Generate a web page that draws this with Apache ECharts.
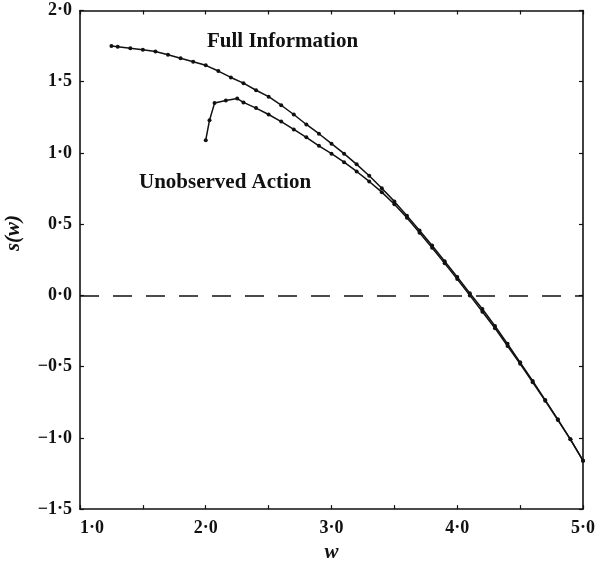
<!DOCTYPE html>
<html>
<head>
<meta charset="utf-8">
<script src="https://cdn.jsdelivr.net/npm/echarts@6/dist/echarts.min.js"></script>
<style>
  html, body { margin: 0; padding: 0; background: #ffffff; }
  #chart { width: 598px; height: 568px; }
</style>
</head>
<body>
<div id="chart"></div>
<script>
// Wage grid and s(w) values, full-information case
const fullW = [1.25, 1.3, 1.4, 1.5, 1.6, 1.7, 1.8, 1.9, 2.0, 2.1, 2.2, 2.3, 2.4, 2.5, 2.6, 2.7, 2.8, 2.9,
               3.0, 3.1, 3.2, 3.3, 3.4, 3.5, 3.6, 3.7, 3.8, 3.9, 4.0, 4.1, 4.2, 4.3, 4.4, 4.5, 4.6, 4.7, 4.8, 4.9, 5.0];
const fullS = [1.75, 1.745, 1.735, 1.725, 1.712, 1.69, 1.665, 1.64, 1.615, 1.575, 1.53, 1.49, 1.44, 1.395, 1.335, 1.27, 1.2, 1.135,
               1.065, 0.995, 0.92, 0.84, 0.752, 0.66, 0.56, 0.455, 0.35, 0.24, 0.13, 0.015, -0.095, -0.215, -0.34, -0.47, -0.6, -0.735, -0.87, -1.01, -1.16];

// Unobserved-action case
const unobsW = [2.0, 2.03, 2.07, 2.16, 2.25, 2.3, 2.4, 2.5, 2.6, 2.7, 2.8, 2.9,
                3.0, 3.1, 3.2, 3.3, 3.4, 3.5, 3.6, 3.7, 3.8, 3.9, 4.0, 4.1, 4.2, 4.3, 4.4, 4.5, 4.6, 4.7, 4.8, 4.9, 5.0];
const unobsS = [1.09, 1.23, 1.35, 1.368, 1.382, 1.355, 1.315, 1.27, 1.22, 1.165, 1.11, 1.05,
                0.995, 0.935, 0.87, 0.8, 0.725, 0.64, 0.545, 0.44, 0.335, 0.225, 0.115, 0.0, -0.115, -0.23, -0.355, -0.48, -0.61, -0.74, -0.875, -1.01, -1.16];

// Axis tick labels
const xTickValues = [1, 2, 3, 4, 5];
const xTickLabels = ['1·0', '2·0', '3·0', '4·0', '5·0'];
const yTickValues = [-1.5, -1, -0.5, 0, 0.5, 1, 1.5, 2];
const yTickLabels = ['−1·5', '−1·0', '−0·5', '0·0', '0·5', '1·0', '1·5', '2·0'];

const seriesNames = ['Full Information', 'Unobserved Action'];

const SERIF = '"Liberation Serif", "DejaVu Serif", serif';
const INK = '#111111';

function lookup(values, labels, v) {
  for (let i = 0; i < values.length; i++) {
    if (Math.abs(values[i] - v) < 1e-6) return labels[i];
  }
  return '';
}

const pairs = (xs, ys) => xs.map((x, i) => [x, ys[i]]);

const tickStyle = { show: true, inside: true, length: 4, lineStyle: { color: INK, width: 1.2 } };
const lineAxis = { show: true, onZero: false, lineStyle: { color: INK, width: 1.6 } };

const chart = echarts.init(document.getElementById('chart'), null, { renderer: 'canvas' });

chart.setOption({
  backgroundColor: '#ffffff',
  animation: false,
  grid: { left: 80, right: 10, top: 10.5, bottom: 52.5 },
  xAxis: [
    {
      type: 'value', min: 1, max: 5, interval: 0.5, position: 'bottom',
      axisLine: lineAxis, axisTick: tickStyle, splitLine: { show: false },
      axisLabel: {
        margin: 10, color: INK, fontFamily: SERIF, fontWeight: 'bold', fontSize: 18,
        alignMinLabel: 'left',
        formatter: v => lookup(xTickValues, xTickLabels, v)
      },
      name: 'w', nameLocation: 'middle', nameGap: 28,
      nameTextStyle: { color: INK, fontFamily: SERIF, fontStyle: 'italic', fontWeight: 'bold', fontSize: 21 }
    },
    {
      type: 'value', min: 1, max: 5, interval: 0.5, position: 'top',
      axisLine: lineAxis, axisTick: tickStyle, splitLine: { show: false }, axisLabel: { show: false }
    }
  ],
  yAxis: [
    {
      type: 'value', min: -1.5, max: 2, interval: 0.5, position: 'left',
      axisLine: lineAxis, axisTick: tickStyle, splitLine: { show: false },
      axisLabel: {
        margin: 8, color: INK, fontFamily: SERIF, fontWeight: 'bold', fontSize: 18,
        formatter: v => lookup(yTickValues, yTickLabels, v)
      }
    },
    {
      type: 'value', min: -1.5, max: 2, interval: 0.5, position: 'right',
      axisLine: lineAxis, axisTick: tickStyle, splitLine: { show: false }, axisLabel: { show: false }
    }
  ],
  graphic: [
    {
      type: 'text', x: 14, y: 233, rotation: Math.PI / 2,
      style: {
        text: 's(w)', fill: INK, font: 'italic bold 21px ' + SERIF,
        align: 'center', verticalAlign: 'middle'
      }
    },
    {
      type: 'text', x: 207, y: 42,
      style: { text: seriesNames[0], fill: INK, font: 'bold 21px ' + SERIF, align: 'left', verticalAlign: 'middle' }
    },
    {
      type: 'text', x: 139, y: 183,
      style: { text: seriesNames[1], fill: INK, font: 'bold 21px ' + SERIF, align: 'left', verticalAlign: 'middle' }
    }
  ],
  series: [
    {
      name: seriesNames[0], type: 'line', data: pairs(fullW, fullS),
      symbol: 'circle', symbolSize: 4, showSymbol: true,
      lineStyle: { color: INK, width: 1.5 }, itemStyle: { color: INK },
      markLine: {
        silent: true, symbol: 'none', label: { show: false },
        lineStyle: { color: INK, width: 1.6, type: [19, 14], dashOffset: 0 },
        data: [{ yAxis: 0 }]
      },
      z: 3
    },
    {
      name: seriesNames[1], type: 'line', data: pairs(unobsW, unobsS),
      symbol: 'circle', symbolSize: 4, showSymbol: true,
      lineStyle: { color: INK, width: 1.5 }, itemStyle: { color: INK },
      z: 3
    }
  ]
});
</script>
</body>
</html>
